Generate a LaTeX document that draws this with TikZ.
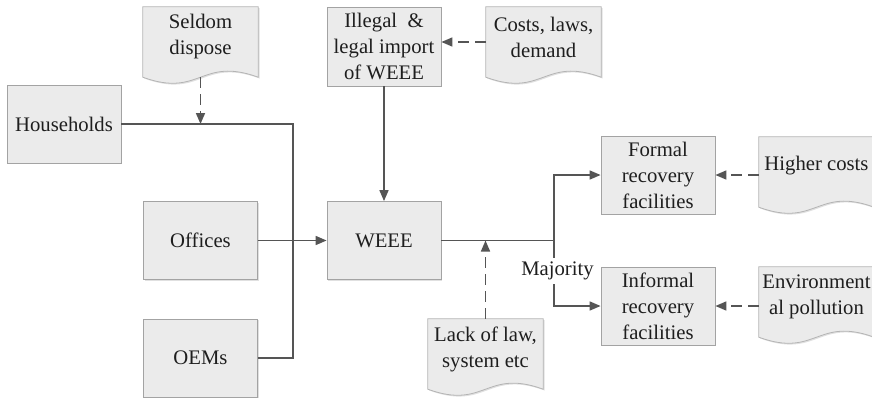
\documentclass[tikz,border=0pt]{standalone}
\usepackage{fontspec}
\setmainfont{Liberation Serif}
\usetikzlibrary{arrows.meta,backgrounds,shadows}
\definecolor{boxfill}{HTML}{EBEBEB}
\definecolor{boxedge}{HTML}{A3A3A3}
\definecolor{docedge}{HTML}{B4B4B4}
\definecolor{wire}{HTML}{555555}
\definecolor{ink}{HTML}{1E1E1E}
\begin{document}
\begin{tikzpicture}[x=1pt,y=-1pt,
  font=\fontsize{20.7}{26}\selectfont, text=ink,
  softshadow/.style={drop shadow={shadow xshift=1.3pt, shadow yshift=-1.3pt, fill=black, opacity=0.12}},
  procbox/.style={draw=boxedge, fill=boxfill, line width=0.8pt, minimum width=114pt,
    minimum height=78pt, inner sep=0pt, align=center, softshadow},
  docbody/.style={minimum width=115pt, minimum height=70pt, inner sep=0pt},
  doctext/.style={align=center, inner sep=0pt},
  docshape/.style={draw=docedge, fill=boxfill, line width=0.8pt, softshadow},
  wireline/.style={draw=wire, line width=1.6pt},
  flow/.style={wireline, -{Triangle[length=11pt,width=9pt]}},
  hint/.style={flow, dash pattern=on 11pt off 6pt}
]
\useasboundingbox (0,0) rectangle (872,399);

% process boxes
\node[procbox] (hh) at (64,124)     {Households};
\node[procbox] (of) at (200.5,240.5) {Offices};
\node[procbox] (oe) at (200.5,358)   {OEMs};
\node[procbox, minimum height=79pt] (il) at (384,46.5) {Illegal \ \&\\legal import\\of WEEE};
\node[procbox] (we) at (384,240.5)   {WEEE};
\node[procbox] (fo) at (658,175)     {Formal\\recovery\\facilities};
\node[procbox] (in) at (658,306)     {Informal\\recovery\\facilities};

% document bodies (outline drawn on the background layer)
\node[docbody] (sd) at (200.5,42)  {};
\node[docbody] (cs) at (543.5,42)  {};
\node[docbody] (lk) at (485.5,354) {};
\node[docbody] (hc) at (816.5,172) {};
\node[docbody] (en) at (816.5,302) {};

\node[doctext] (sd-t) at ([yshift=5pt]sd.center) {Seldom\\dispose};
\node[doctext] (cs-t) at ([yshift=5pt]cs.center) {Costs, laws,\\demand};
\node[doctext] (lk-t) at ([yshift=5pt]lk.center) {Lack of law,\\system etc};
\node[doctext] (hc-t) at ([yshift=6pt]hc.center) {Higher costs};
\node[doctext] (en-t) at ([yshift=5pt]en.center) {Environment\\al pollution};

\begin{scope}[on background layer]
  \foreach \d in {sd,cs,lk,hc,en}{
    \path[docshape] (\d.north west) -- (\d.north east) -- (\d.south east)
      .. controls +(-57.5,-21) and +(57.5,21) .. (\d.south west) -- cycle;
  }
\end{scope}

% junction points of the flow lines
\coordinate (bus) at (293,124);
\coordinate (split) at (554,240.5);

% sources into WEEE
\draw[wireline] (hh.east) -- (bus) |- (oe.east);
\draw[flow] (of.east) -- (we.west);
\draw[hint] (sd.south) -- (sd.south |- hh.east);
\draw[flow] (il.south) -- (we.north);
\draw[hint] (cs.west) -- (cs.west -| il.east);

% WEEE to recovery facilities
\draw[wireline] (we.east) -- (split);
\draw[flow] (split) |- (fo.west);
\draw[flow] (split) |- (in.west);
\draw[hint] (lk.north) -- (lk.north |- we.east);
\draw[hint] (hc.west |- fo.east) -- (fo.east);
\draw[hint] (en.west |- in.east) -- (in.east);

\node[fill=white, inner xsep=1pt, inner ysep=4pt] (mj) at (557.5,271) {Majority};
\end{tikzpicture}
\end{document}
